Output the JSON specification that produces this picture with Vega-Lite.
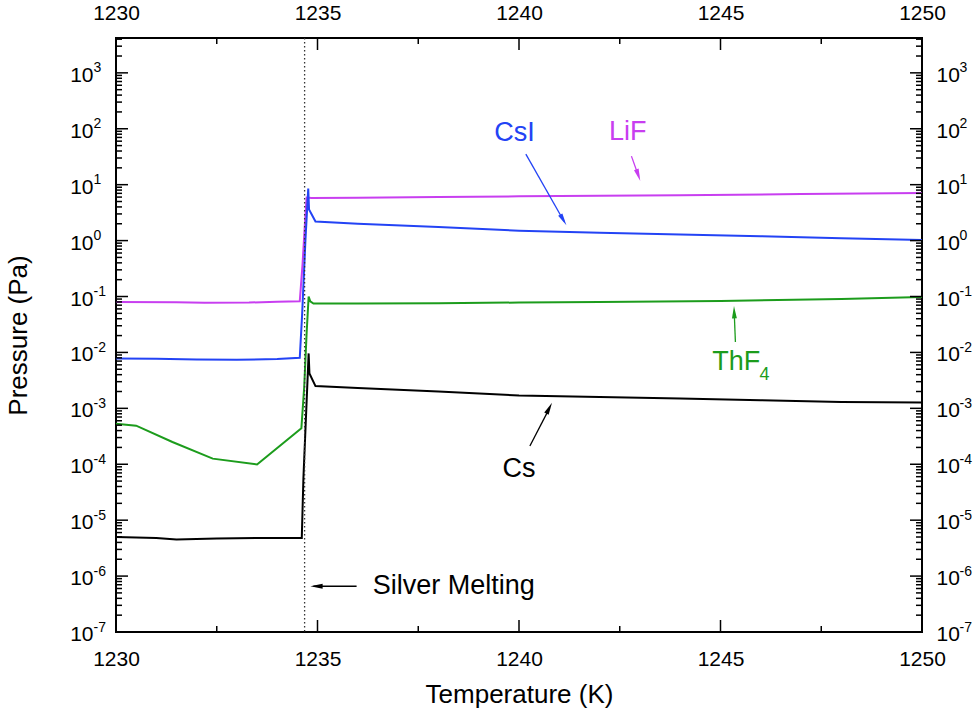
{
  "$schema": "https://vega.github.io/schema/vega-lite/v6.json",
  "width": 806,
  "height": 594,
  "autosize": "none",
  "padding": {"left": 116, "top": 38, "right": 58, "bottom": 86},
  "config": {
    "font": "Liberation Sans, Arial, sans-serif",
    "view": {"stroke": "#000", "strokeWidth": 2},
    "axis": {
      "grid": false,
      "domain": false,
      "ticks": false,
      "labelColor": "#000",
      "labelFontSize": 21,
      "labelOverlap": false,
      "labelFlush": false,
      "labelBound": false,
      "titleColor": "#000",
      "titleFontSize": 26,
      "titleFontWeight": "normal"
    }
  },
  "datasets": {
    "lines": [
      {"s": "LiF", "t": 1230, "p": 0.080},
      {"s": "LiF", "t": 1231.5, "p": 0.079},
      {"s": "LiF", "t": 1232.2, "p": 0.077},
      {"s": "LiF", "t": 1233.3, "p": 0.078},
      {"s": "LiF", "t": 1234.0, "p": 0.081},
      {"s": "LiF", "t": 1234.56, "p": 0.082},
      {"s": "LiF", "t": 1234.63, "p": 0.39},
      {"s": "LiF", "t": 1234.68, "p": 1.6},
      {"s": "LiF", "t": 1234.73, "p": 5.9},
      {"s": "LiF", "t": 1234.85, "p": 5.8},
      {"s": "LiF", "t": 1236, "p": 5.85},
      {"s": "LiF", "t": 1238, "p": 6.0},
      {"s": "LiF", "t": 1240, "p": 6.2},
      {"s": "LiF", "t": 1242, "p": 6.35},
      {"s": "LiF", "t": 1244, "p": 6.5},
      {"s": "LiF", "t": 1247, "p": 6.8},
      {"s": "LiF", "t": 1250, "p": 7.1},
      {"s": "CsI", "t": 1230, "p": 0.0078},
      {"s": "CsI", "t": 1231, "p": 0.0077},
      {"s": "CsI", "t": 1232, "p": 0.0075},
      {"s": "CsI", "t": 1233, "p": 0.0074},
      {"s": "CsI", "t": 1234, "p": 0.0076},
      {"s": "CsI", "t": 1234.56, "p": 0.0080},
      {"s": "CsI", "t": 1234.62, "p": 0.05},
      {"s": "CsI", "t": 1234.70, "p": 1.0},
      {"s": "CsI", "t": 1234.77, "p": 8.5},
      {"s": "CsI", "t": 1234.79, "p": 3.6},
      {"s": "CsI", "t": 1234.95, "p": 2.2},
      {"s": "CsI", "t": 1236, "p": 2.0},
      {"s": "CsI", "t": 1238, "p": 1.75},
      {"s": "CsI", "t": 1240, "p": 1.5},
      {"s": "CsI", "t": 1242, "p": 1.38},
      {"s": "CsI", "t": 1244, "p": 1.29},
      {"s": "CsI", "t": 1246, "p": 1.2},
      {"s": "CsI", "t": 1248, "p": 1.1},
      {"s": "CsI", "t": 1250, "p": 1.02},
      {"s": "ThF4", "t": 1230, "p": 0.00053},
      {"s": "ThF4", "t": 1230.5, "p": 0.00049},
      {"s": "ThF4", "t": 1231.4, "p": 0.00025},
      {"s": "ThF4", "t": 1232.4, "p": 0.000126},
      {"s": "ThF4", "t": 1233.5, "p": 0.000099},
      {"s": "ThF4", "t": 1234.6, "p": 0.00044},
      {"s": "ThF4", "t": 1234.67, "p": 0.0024},
      {"s": "ThF4", "t": 1234.73, "p": 0.022},
      {"s": "ThF4", "t": 1234.78, "p": 0.10},
      {"s": "ThF4", "t": 1234.82, "p": 0.082},
      {"s": "ThF4", "t": 1234.9, "p": 0.075},
      {"s": "ThF4", "t": 1236, "p": 0.075},
      {"s": "ThF4", "t": 1238, "p": 0.076},
      {"s": "ThF4", "t": 1240, "p": 0.078},
      {"s": "ThF4", "t": 1242, "p": 0.080},
      {"s": "ThF4", "t": 1245, "p": 0.083},
      {"s": "ThF4", "t": 1248, "p": 0.090},
      {"s": "ThF4", "t": 1250, "p": 0.098},
      {"s": "Cs", "t": 1230, "p": 0.0000050},
      {"s": "Cs", "t": 1231, "p": 0.0000048},
      {"s": "Cs", "t": 1231.5, "p": 0.0000045},
      {"s": "Cs", "t": 1232.5, "p": 0.0000047},
      {"s": "Cs", "t": 1233.5, "p": 0.0000048},
      {"s": "Cs", "t": 1234.61, "p": 0.0000048},
      {"s": "Cs", "t": 1234.65, "p": 0.000055},
      {"s": "Cs", "t": 1234.78, "p": 0.0096},
      {"s": "Cs", "t": 1234.80, "p": 0.0042},
      {"s": "Cs", "t": 1234.95, "p": 0.0025},
      {"s": "Cs", "t": 1236, "p": 0.0023},
      {"s": "Cs", "t": 1238, "p": 0.0020},
      {"s": "Cs", "t": 1240, "p": 0.0017},
      {"s": "Cs", "t": 1242, "p": 0.0016},
      {"s": "Cs", "t": 1244, "p": 0.0015},
      {"s": "Cs", "t": 1246, "p": 0.0014},
      {"s": "Cs", "t": 1248, "p": 0.0013},
      {"s": "Cs", "t": 1250, "p": 0.00127}
    ],
    "melt": [{"t": 1234.68}],
    "arrows": [
      {"s": "Ag", "t": 1235.97, "p": 6.58e-7, "t2": 1234.9, "p2": 6.58e-7},
      {"s": "CsI", "t": 1240.17, "p": 35.2, "t2": 1241.12, "p2": 2.2},
      {"s": "LiF", "t": 1242.79, "p": 32.4, "t2": 1242.97, "p2": 14},
      {"s": "Cs", "t": 1240.27, "p": 0.000212, "t2": 1240.76, "p2": 0.00102},
      {"s": "ThF4", "t": 1245.37, "p": 0.0154, "t2": 1245.34, "p2": 0.053}
    ],
    "heads": [
      {"s": "Ag", "t": 1234.975, "p": 6.58e-7, "a": 270},
      {"s": "CsI", "t": 1241.10, "p": 2.34, "a": 150},
      {"s": "LiF", "t": 1242.96, "p": 14.8, "a": 161},
      {"s": "Cs", "t": 1240.75, "p": 0.001005, "a": 27},
      {"s": "ThF4", "t": 1245.34, "p": 0.0524, "a": 358}
    ],
    "labels": [
      {"s": "CsI", "t": 1239.89, "p": 83.4, "txt": "CsI"},
      {"s": "LiF", "t": 1242.70, "p": 86.9, "txt": "LiF"},
      {"s": "Cs", "t": 1240.0, "p": 0.0000837, "txt": "Cs"},
      {"s": "ThF4", "t": 1245.39, "p": 0.00676, "txt": "ThF"},
      {"s": "Ag", "t": 1238.38, "p": 6.58e-7, "txt": "Silver Melting"}
    ],
    "sub": [
      {"s": "ThF4", "t": 1246.09, "p": 0.00391, "txt": "4"}
    ],
    "ytick": [
      {"v": 2e-7}, {"v": 3e-7}, {"v": 4e-7}, {"v": 5e-7}, {"v": 6e-7}, {"v": 7e-7}, {"v": 8e-7}, {"v": 9e-7},
      {"v": 2e-6}, {"v": 3e-6}, {"v": 4e-6}, {"v": 5e-6}, {"v": 6e-6}, {"v": 7e-6}, {"v": 8e-6}, {"v": 9e-6},
      {"v": 2e-5}, {"v": 3e-5}, {"v": 4e-5}, {"v": 5e-5}, {"v": 6e-5}, {"v": 7e-5}, {"v": 8e-5}, {"v": 9e-5},
      {"v": 0.0002}, {"v": 0.0003}, {"v": 0.0004}, {"v": 0.0005}, {"v": 0.0006}, {"v": 0.0007}, {"v": 0.0008}, {"v": 0.0009},
      {"v": 0.002}, {"v": 0.003}, {"v": 0.004}, {"v": 0.005}, {"v": 0.006}, {"v": 0.007}, {"v": 0.008}, {"v": 0.009},
      {"v": 0.02}, {"v": 0.03}, {"v": 0.04}, {"v": 0.05}, {"v": 0.06}, {"v": 0.07}, {"v": 0.08}, {"v": 0.09},
      {"v": 0.2}, {"v": 0.3}, {"v": 0.4}, {"v": 0.5}, {"v": 0.6}, {"v": 0.7}, {"v": 0.8}, {"v": 0.9},
      {"v": 2}, {"v": 3}, {"v": 4}, {"v": 5}, {"v": 6}, {"v": 7}, {"v": 8}, {"v": 9},
      {"v": 20}, {"v": 30}, {"v": 40}, {"v": 50}, {"v": 60}, {"v": 70}, {"v": 80}, {"v": 90},
      {"v": 200}, {"v": 300}, {"v": 400}, {"v": 500}, {"v": 600}, {"v": 700}, {"v": 800}, {"v": 900},
      {"v": 2000}, {"v": 3000}, {"v": 4000}
    ],
    "ymaj": [
      {"v": 1e-7}, {"v": 1e-6}, {"v": 1e-5}, {"v": 0.0001}, {"v": 0.001}, {"v": 0.01},
      {"v": 0.1}, {"v": 1}, {"v": 10}, {"v": 100}, {"v": 1000}
    ],
    "xtick": [{"v": 1232.5}, {"v": 1237.5}, {"v": 1242.5}, {"v": 1247.5}],
    "xmaj": [{"v": 1230}, {"v": 1235}, {"v": 1240}, {"v": 1245}, {"v": 1250}]
  },
  "resolve": {"axis": {"x": "independent", "y": "independent"}},
  "layer": [
    {
      "data": {"name": "lines"},
      "mark": {"type": "line", "strokeWidth": 2, "clip": true},
      "encoding": {
        "x": {
          "field": "t", "type": "quantitative",
          "scale": {"domain": [1230, 1250], "nice": false, "zero": false},
          "axis": {
            "orient": "bottom",
            "title": "Temperature (K)",
            "values": [1230, 1235, 1240, 1245, 1250],
            "labelExpr": "'' + datum.value",
            "labelPadding": 16,
            "titlePadding": 12
          }
        },
        "y": {
          "field": "p", "type": "quantitative",
          "scale": {"type": "log", "domain": [1e-7, 4200], "nice": false},
          "axis": {
            "orient": "left",
            "title": "Pressure (Pa)",
            "values": [1e-7, 1e-6, 1e-5, 0.0001, 0.001, 0.01, 0.1, 1, 10, 100, 1000],
            "labelExpr": "'10'",
            "labelPadding": 23,
            "labelOffset": 2.5,
            "titlePadding": 38
          }
        },
        "color": {
          "field": "s", "type": "nominal", "legend": null,
          "scale": {"domain": ["LiF", "CsI", "ThF4", "Cs", "Ag"], "range": ["#c83ef0", "#2343f5", "#1c9c1c", "#000000", "#000000"]}
        }
      }
    },
    {
      "data": {"name": "melt"},
      "mark": {"type": "rule", "color": "#333", "strokeWidth": 1.3, "strokeDash": [1.5, 2.5]},
      "encoding": {
        "x": {
          "field": "t", "type": "quantitative",
          "axis": {
            "orient": "top",
            "title": null,
            "values": [1230, 1235, 1240, 1245, 1250],
            "labelExpr": "'' + datum.value",
            "labelPadding": 15
          }
        }
      }
    },
    {
      "data": {"name": "arrows"},
      "mark": {"type": "rule", "strokeWidth": 1.3},
      "encoding": {
        "x": {"field": "t", "type": "quantitative", "axis": null},
        "x2": {"field": "t2"},
        "y": {
          "field": "p", "type": "quantitative",
          "axis": {
            "orient": "right",
            "title": null,
            "values": [1e-7, 1e-6, 1e-5, 0.0001, 0.001, 0.01, 0.1, 1, 10, 100, 1000],
            "labelExpr": "'10'",
            "labelPadding": 14,
            "labelOffset": 2.5
          }
        },
        "y2": {"field": "p2"},
        "color": {
          "field": "s", "type": "nominal", "legend": null,
          "scale": {"domain": ["LiF", "CsI", "ThF4", "Cs", "Ag"], "range": ["#c83ef0", "#2343f5", "#1c9c1c", "#000000", "#000000"]}
        }
      }
    },
    {
      "data": {"name": "heads"},
      "mark": {"type": "point", "filled": true, "opacity": 1, "size": 150, "shape": "M0,-1L0.4,1L-0.4,1Z"},
      "encoding": {
        "x": {"field": "t", "type": "quantitative", "axis": null},
        "y": {
          "field": "p", "type": "quantitative",
          "axis": {
            "orient": "left",
            "title": null,
            "values": [1e-7, 1e-6, 1e-5, 0.0001, 0.001, 0.01, 0.1, 1, 10, 100, 1000],
            "labelExpr": "'' + round(log(datum.value)/LN10)",
            "labelAlign": "left",
            "labelFontSize": 14,
            "labelPadding": 23,
            "labelOffset": -5
          }
        },
        "angle": {"field": "a", "type": "quantitative", "scale": null},
        "color": {
          "field": "s", "type": "nominal", "legend": null,
          "scale": {"domain": ["LiF", "CsI", "ThF4", "Cs", "Ag"], "range": ["#c83ef0", "#2343f5", "#1c9c1c", "#000000", "#000000"]}
        }
      }
    },
    {
      "data": {"name": "labels"},
      "mark": {"type": "text", "fontSize": 27, "align": "center", "baseline": "middle"},
      "encoding": {
        "x": {"field": "t", "type": "quantitative", "axis": null},
        "y": {
          "field": "p", "type": "quantitative",
          "axis": {
            "orient": "right",
            "title": null,
            "values": [1e-7, 1e-6, 1e-5, 0.0001, 0.001, 0.01, 0.1, 1, 10, 100, 1000],
            "labelExpr": "'' + round(log(datum.value)/LN10)",
            "labelAlign": "left",
            "labelFontSize": 14,
            "labelPadding": 37,
            "labelOffset": -5
          }
        },
        "text": {"field": "txt"},
        "color": {
          "field": "s", "type": "nominal", "legend": null,
          "scale": {"domain": ["LiF", "CsI", "ThF4", "Cs", "Ag"], "range": ["#c83ef0", "#2343f5", "#1c9c1c", "#000000", "#000000"]}
        }
      }
    },
    {
      "data": {"name": "sub"},
      "mark": {"type": "text", "fontSize": 18, "align": "center", "baseline": "middle"},
      "encoding": {
        "x": {"field": "t", "type": "quantitative", "axis": null},
        "y": {"field": "p", "type": "quantitative", "axis": null},
        "text": {"field": "txt"},
        "color": {
          "field": "s", "type": "nominal", "legend": null,
          "scale": {"domain": ["LiF", "CsI", "ThF4", "Cs", "Ag"], "range": ["#c83ef0", "#2343f5", "#1c9c1c", "#000000", "#000000"]}
        }
      }
    },
    {
      "data": {"name": "ytick"},
      "mark": {"type": "rule", "color": "#000", "strokeWidth": 1.5},
      "encoding": {
        "y": {"field": "v", "type": "quantitative", "axis": null},
        "x": {"datum": 1230, "type": "quantitative", "axis": null},
        "x2": {"datum": 1230.149}
      }
    },
    {
      "data": {"name": "ytick"},
      "mark": {"type": "rule", "color": "#000", "strokeWidth": 1.5},
      "encoding": {
        "y": {"field": "v", "type": "quantitative", "axis": null},
        "x": {"datum": 1249.851, "type": "quantitative", "axis": null},
        "x2": {"datum": 1250}
      }
    },
    {
      "data": {"name": "ymaj"},
      "mark": {"type": "rule", "color": "#000", "strokeWidth": 1.5},
      "encoding": {
        "y": {"field": "v", "type": "quantitative", "axis": null},
        "x": {"datum": 1230, "type": "quantitative", "axis": null},
        "x2": {"datum": 1230.298}
      }
    },
    {
      "data": {"name": "ymaj"},
      "mark": {"type": "rule", "color": "#000", "strokeWidth": 1.5},
      "encoding": {
        "y": {"field": "v", "type": "quantitative", "axis": null},
        "x": {"datum": 1249.702, "type": "quantitative", "axis": null},
        "x2": {"datum": 1250}
      }
    },
    {
      "data": {"name": "xtick"},
      "mark": {"type": "rule", "color": "#000", "strokeWidth": 1.5},
      "encoding": {
        "x": {"field": "v", "type": "quantitative", "axis": null},
        "y": {"datum": 1e-7, "type": "quantitative", "axis": null},
        "y2": {"datum": 1.28e-7}
      }
    },
    {
      "data": {"name": "xtick"},
      "mark": {"type": "rule", "color": "#000", "strokeWidth": 1.5},
      "encoding": {
        "x": {"field": "v", "type": "quantitative", "axis": null},
        "y": {"datum": 3280, "type": "quantitative", "axis": null},
        "y2": {"datum": 4200}
      }
    },
    {
      "data": {"name": "xmaj"},
      "mark": {"type": "rule", "color": "#000", "strokeWidth": 1.5},
      "encoding": {
        "x": {"field": "v", "type": "quantitative", "axis": null},
        "y": {"datum": 1e-7, "type": "quantitative", "axis": null},
        "y2": {"datum": 1.64e-7}
      }
    },
    {
      "data": {"name": "xmaj"},
      "mark": {"type": "rule", "color": "#000", "strokeWidth": 1.5},
      "encoding": {
        "x": {"field": "v", "type": "quantitative", "axis": null},
        "y": {"datum": 2560, "type": "quantitative", "axis": null},
        "y2": {"datum": 4200}
      }
    }
  ]
}
